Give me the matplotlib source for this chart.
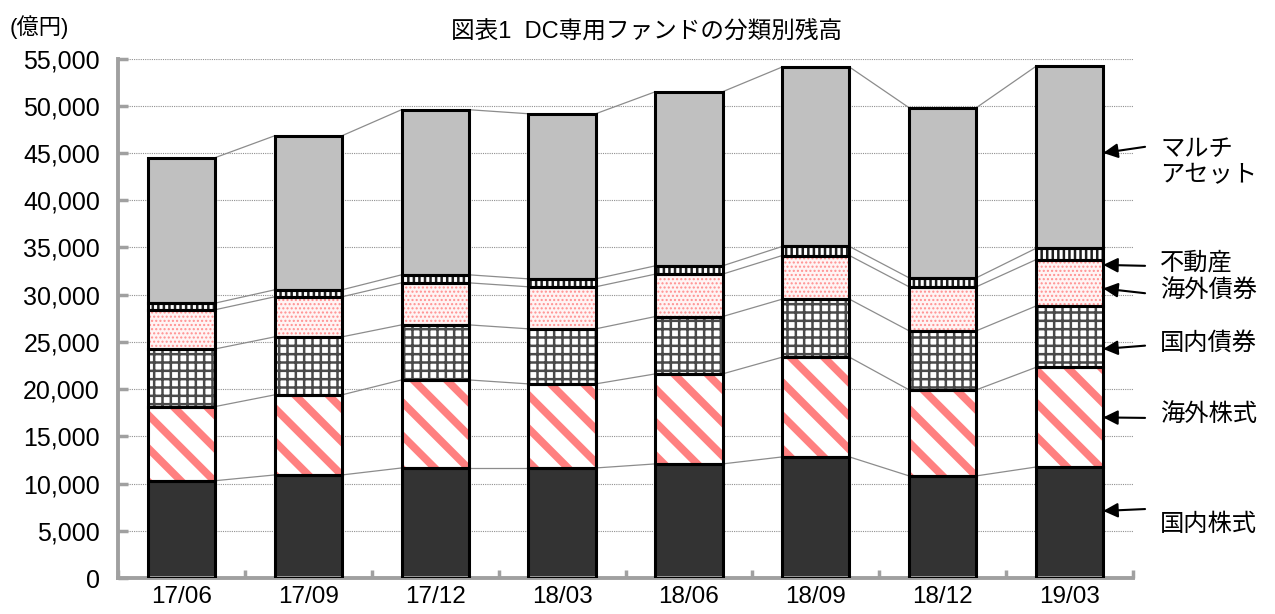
import matplotlib
matplotlib.use('Agg')
import matplotlib.pyplot as plt
import numpy as np

plt.rcParams['font.family'] = ['Liberation Sans', 'Noto Sans CJK JP']

# data (億円)
quarters = ['17/06', '17/09', '17/12', '18/03', '18/06', '18/09', '18/12', '19/03']
domestic_eq = [10300, 10910, 11650, 11650, 12080, 12820, 10810, 11750]
foreign_eq = [7850, 8480, 9320, 8900, 9530, 10560, 9110, 10550]
domestic_bd = [6100, 6140, 5830, 5830, 6070, 6140, 6250, 6490]
foreign_bd = [4150, 4240, 4450, 4450, 4490, 4620, 4660, 4910]
real_estate = [700, 740, 850, 840, 880, 960, 950, 1200]
multi_asset = [15400, 16310, 17480, 17480, 18430, 19000, 18010, 19270]

labels = ['国内株式', '海外株式', '国内債券', '海外債券', '不動産', 'マルチ\nアセット']
# (arrow tip y, arrow tail y, text y) for each label, in 億円
label_y = [(7100, 7300, 5610), (17000, 16950, 17260), (24250, 24600, 24880),
           (30650, 30150, 30390), (33150, 33050, 33350), (45000, 45650, 43930)]

fig = plt.figure(figsize=(12.75, 6.14), dpi=100)
ax = fig.add_axes([118 / 1275, 1 - 578 / 614, 1015 / 1275, 519.5 / 614])

x = np.arange(len(quarters))
w = 0.53

# face, hatch, hatch colour, hatch linewidth
styles = [
    ('#333333', None, '#333333', 1.0),
    ('white', '\\', '#ff8080', 5.5),
    ('white', '++', '#4a4a4a', 1.8),
    ('#fff4f4', '....', '#ff9090', 1.0),
    ('white', '|||', '#202020', 1.8),
    ('#c0c0c0', None, '#c0c0c0', 1.0),
]
series = [domestic_eq, foreign_eq, domestic_bd, foreign_bd, real_estate, multi_asset]

bottom = np.zeros(len(quarters))
tops = []
for vals, (face, hatch, hcol, hlw) in zip(series, styles):
    vals = np.array(vals, dtype=float)
    with plt.rc_context({'hatch.linewidth': hlw}):
        bars = ax.bar(x, vals, w, bottom=bottom, color=face, edgecolor=hcol,
                      linewidth=0, hatch=hatch, zorder=2)
        for b in bars:
            if hasattr(b, 'set_hatch_linewidth'):
                b.set_hatch_linewidth(hlw)
    ax.bar(x, vals, w, bottom=bottom, fill=False, edgecolor='black',
           linewidth=2.2, zorder=3)
    bottom = bottom + vals
    tops.append(bottom.copy())

# connector lines between bars
for lvl in tops:
    for i in range(len(x) - 1):
        ax.plot([x[i] + w / 2, x[i + 1] - w / 2], [lvl[i], lvl[i + 1]],
                color='#8c8c8c', lw=0.9, zorder=1)

ax.set_xlim(-0.5, len(quarters) - 0.5)
ax.set_ylim(0, 55000)
ax.set_yticks(range(0, 55001, 5000))
ax.set_yticklabels([f'{v:,}' for v in range(0, 55001, 5000)])
ax.yaxis.grid(True, linestyle=(0, (1, 1)), color='#909090', lw=0.8)
ax.set_axisbelow(True)

ax.set_xticks(x)
ax.set_xticklabels(quarters)
ax.set_xticks(np.arange(-0.5, len(quarters)), minor=True)
ax.tick_params(axis='x', which='major', length=0, pad=6, labelsize=17.5)
ax.tick_params(axis='x', which='minor', direction='in', length=6, width=2.5, color='#a0a0a0')
ax.tick_params(axis='y', direction='in', length=7, width=2.5, color='#a0a0a0',
               pad=13, labelsize=18)

for s in ['top', 'right']:
    ax.spines[s].set_visible(False)
for s in ['left', 'bottom']:
    ax.spines[s].set_color('#a0a0a0')
    ax.spines[s].set_linewidth(2.8)

# labels with arrows on the right
tip_x = x[-1] + w / 2
for lab, (ty, sy, txt_y) in zip(labels, label_y):
    tail_x = tip_x + 0.33
    ax.annotate('', xy=(tip_x, ty), xytext=(tail_x, sy), annotation_clip=False,
                arrowprops=dict(arrowstyle='-|>', color='black', lw=1.5,
                                mutation_scale=22, shrinkA=0, shrinkB=0))
    ax.text(tail_x + 0.12, txt_y, lab, ha='left', va='center', fontsize=17.5,
            linespacing=1.25, clip_on=False)

fig.text(0.507, 1 - 33 / 614, '図表1  DC専用ファンドの分類別残高', ha='center',
         va='center', fontsize=17)
fig.text(10 / 1275, 1 - 27 / 614, '(億円)', ha='left', va='center', fontsize=16)

fig.savefig('out.png', dpi=100)
